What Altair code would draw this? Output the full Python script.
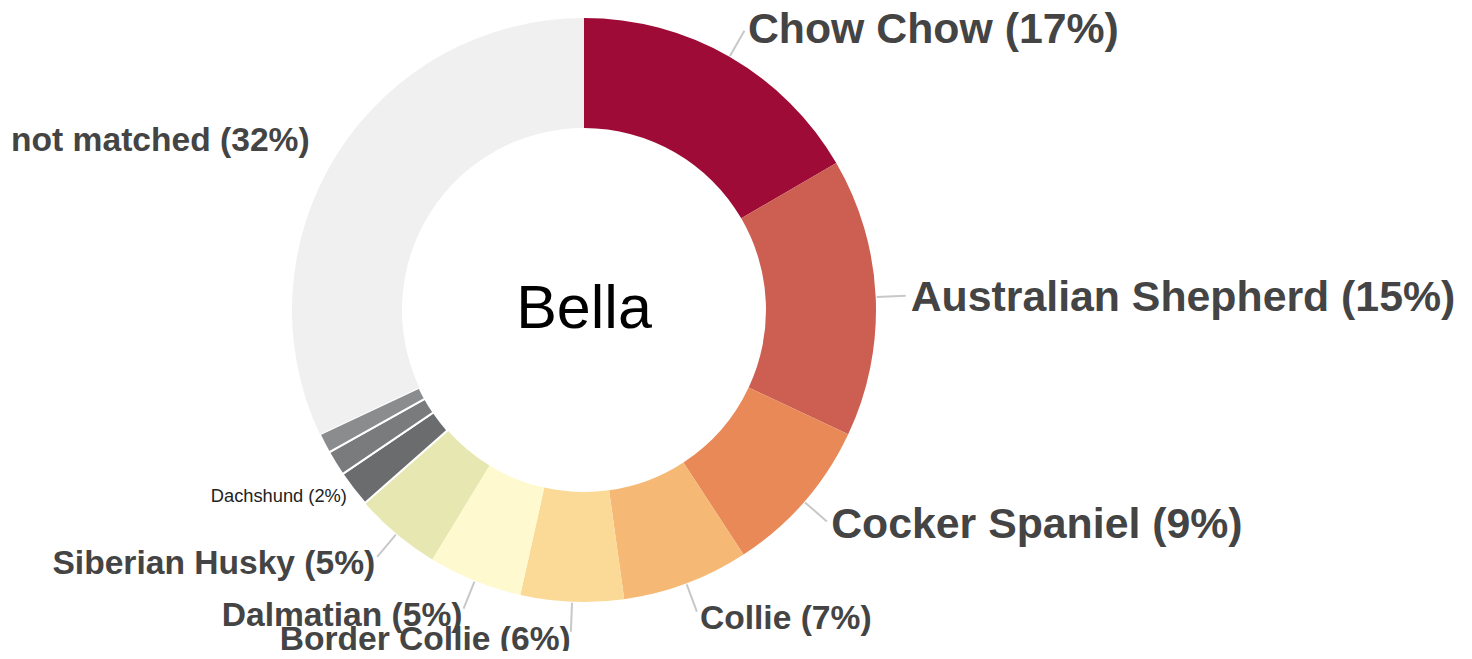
import math
import altair as alt
import pandas as pd

# ---- data ----
breeds = ["Chow Chow", "Australian Shepherd", "Cocker Spaniel", "Collie",
          "Border Collie", "Dalmatian", "Siberian Husky", "Dachshund",
          "other breed A", "other breed B", "not matched"]
shares = [16.6, 15.4, 8.8, 7.0, 5.7, 5.2, 4.8, 2.0, 1.4, 1.1, 32.0]
colors = ["#9e0b36", "#cc5f51", "#e98957", "#f6b875", "#fbd997", "#fef9ce",
          "#e7e8b1", "#6b6c6e", "#7a7b7d", "#8b8c8e", "#f0f0f0"]
center_name = "Bella"

# ---- layout constants ----
CX, CY = 576, 302
R_IN, R_OUT = 182, 292
FONT = "Liberation Sans"

df = pd.DataFrame({"breed": breeds, "share": shares})
df["end"] = df["share"].cumsum()
df["start"] = df["end"] - df["share"]
df["mid"] = (df["start"] + df["end"]) / 2
df["label"] = [f"{b} ({round(s)}%)" for b, s in zip(breeds, shares)]


def tier(b, s):
    if b == "not matched":
        return "mid"
    if s >= 8:
        return "large"
    if s >= 4:
        return "mid"
    if s >= 2:
        return "small"
    return "none"


df["tier"] = [tier(b, s) for b, s in zip(breeds, shares)]
df["side"] = ["right" if m < 50 else "left" for m in df["mid"]]
df["leader"] = [(t in ("large", "mid")) and b != "not matched"
                for b, t in zip(df["breed"], df["tier"])]

theta_scale = alt.Scale(domain=[0, 100], range=[0, 2 * math.pi])
base = alt.Chart(df)

arcs = base.mark_arc(innerRadius=R_IN, outerRadius=R_OUT, stroke="white").encode(
    theta=alt.Theta("start:Q", scale=theta_scale, stack=None),
    theta2="end:Q",
    color=alt.Color("breed:N", scale=alt.Scale(domain=breeds, range=colors), legend=None),
    strokeWidth=alt.condition("datum.share < 2.5", alt.value(2), alt.value(0)),
    x=alt.value(CX),
    y=alt.value(CY),
)

leaders = base.transform_filter("datum.leader").transform_calculate(
    a="datum.mid / 100 * 2 * PI",
).transform_calculate(
    x1=f"{CX} + {R_OUT + 1} * sin(datum.a)",
    y1=f"{CY} - {R_OUT + 1} * cos(datum.a)",
    x2=f"{CX} + 322 * sin(datum.a)",
    y2=f"{CY} - 322 * cos(datum.a)",
).mark_rule(color="#c8c8c8", strokeWidth=2).encode(
    x=alt.X("x1:Q", scale=None, axis=None),
    y=alt.Y("y1:Q", scale=None, axis=None),
    x2="x2:Q",
    y2="y2:Q",
)

styles = {
    "large": dict(fontSize=42.8, fontWeight="bold", color="#444444", radius=325, dy=2),
    "mid": dict(fontSize=33.6, fontWeight="bold", color="#444444", radius=325, dy=5),
    "small": dict(fontSize=18.3, fontWeight="normal", color="#222222", radius=300, dy=3),
}

layers = [arcs, leaders]
for t, st in styles.items():
    for side, align, dx in (("right", "left", 2), ("left", "right", 0)):
        layers.append(
            base.transform_filter(
                f"datum.tier == '{t}' && datum.side == '{side}'"
            ).mark_text(
                align=align, baseline="middle", font=FONT, dx=dx, **st
            ).encode(
                theta=alt.Theta("mid:Q", scale=theta_scale, stack=None),
                text="label:N",
                x=alt.value(CX),
                y=alt.value(CY),
            )
        )

center = alt.Chart(pd.DataFrame({"name": [center_name]})).mark_text(
    fontSize=61, font=FONT, color="black", baseline="middle", align="center"
).encode(text="name:N", x=alt.value(CX), y=alt.value(CY))
layers.append(center)

chart = alt.layer(*layers).properties(
    width=1456, height=643, padding=0, autosize="none"
).configure_view(stroke=None)

chart.save("out.html", embed_options={"renderer": "svg", "actions": False})
